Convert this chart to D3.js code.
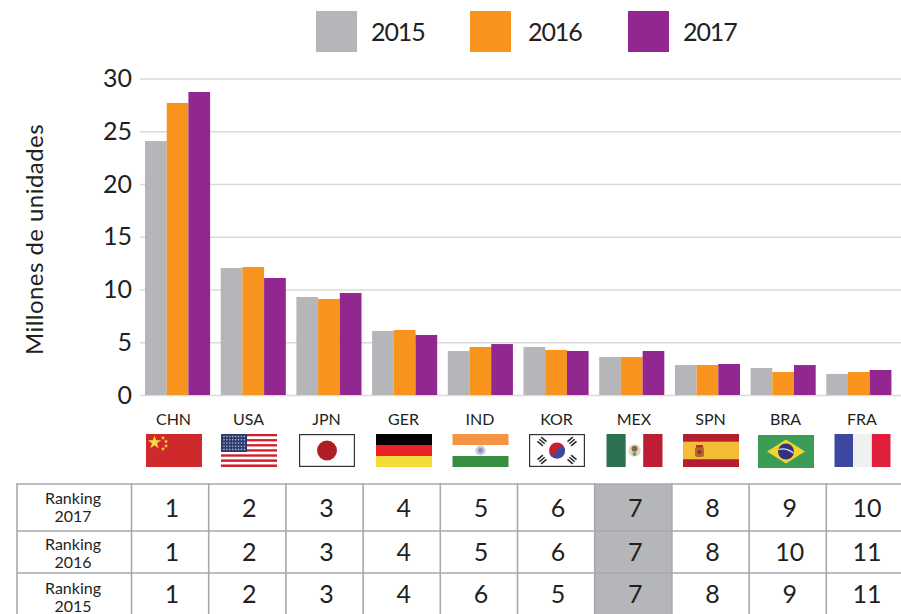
<!DOCTYPE html>
<html>
<head>
<meta charset="utf-8">
<script src="https://cdnjs.cloudflare.com/ajax/libs/d3/7.8.5/d3.min.js"></script>
<style>
  html, body { margin: 0; padding: 0; background: #fff; }
  svg { display: block; }
  text { font-family: Lato, sans-serif; fill: #231f20; }
</style>
</head>
<body>
<div id="chart"></div>
<script>
var countries = ["CHN", "USA", "JPN", "GER", "IND", "KOR", "MEX", "SPN", "BRA", "FRA"];
var years = ["2015", "2016", "2017"];
var values2015 = [24.07, 12.04, 9.29, 6.07, 4.17, 4.55, 3.6, 2.84, 2.56, 2.0];
var values2016 = [27.68, 12.13, 9.1, 6.16, 4.55, 4.27, 3.6, 2.84, 2.18, 2.18];
var values2017 = [28.72, 11.09, 9.67, 5.69, 4.83, 4.17, 4.17, 2.94, 2.84, 2.37];
var yTicks = [0, 5, 10, 15, 20, 25, 30];
var rankRows = ["2017", "2016", "2015"];
var ranking2017 = [1, 2, 3, 4, 5, 6, 7, 8, 9, 10];
var ranking2016 = [1, 2, 3, 4, 5, 6, 7, 8, 10, 11];
var ranking2015 = [1, 2, 3, 4, 6, 5, 7, 8, 9, 11];

var seriesValues = { "2015": values2015, "2016": values2016, "2017": values2017 };
var rankValues = { "2017": ranking2017, "2016": ranking2016, "2015": ranking2015 };

var width = 901, height = 614;

var color = d3.scaleOrdinal().domain(years).range(["#b5b6b9", "#f8931d", "#91278f"]);

var svg = d3.select("#chart").append("svg")
    .attr("width", width)
    .attr("height", height);

// ---- scales
var x0 = d3.scaleBand().domain(countries).range([139.7, 896.7]).paddingInner(0.14).paddingOuter(0.07);
var x1 = d3.scaleBand().domain(years).range([0, x0.bandwidth()]);
var y = d3.scaleLinear().domain([0, 30]).range([395, 78.5]);

// flags and labels sit on a slightly wider spacing than the bars
var labelX = d3.scaleOrdinal().domain(countries)
    .range([174, 249, 327, 404, 480.5, 557, 634.5, 711, 786, 862.5]);

// table columns
var tableX = d3.scaleBand().domain(countries).range([131.5, 903.5]);
var tableY = d3.scaleOrdinal().domain(rankRows).range([484, 531, 573]);
var tableBottom = d3.scaleOrdinal().domain(rankRows).range([531, 573, 620]);
var rowLabelY = d3.scaleOrdinal().domain(rankRows).range([498, 544, 588]);
var rowNumberY = d3.scaleOrdinal().domain(rankRows).range([507.5, 551.5, 594]);

// ---- legend
var legendX = d3.scaleOrdinal().domain(years).range([316, 470, 628]);
var legendTextX = d3.scaleOrdinal().domain(years).range([371, 528, 683]);

svg.append("g").selectAll("rect")
    .data(years)
    .enter().append("rect")
    .attr("x", function(d) { return legendX(d); })
    .attr("y", 11)
    .attr("width", 41)
    .attr("height", 41)
    .attr("fill", color);

svg.append("g").selectAll("text")
    .data(years)
    .enter().append("text")
    .attr("x", function(d) { return legendTextX(d); })
    .attr("y", 32)
    .attr("dy", "0.36em")
    .style("font-size", "25px")
    .style("letter-spacing", "-1.1px")
    .text(function(d) { return d; });

// ---- axis and grid
var yAxis = svg.append("g")
    .attr("transform", "translate(140,0)")
    .call(d3.axisLeft(y).tickValues(yTicks).tickSize(-(width - 140)).tickPadding(8));

yAxis.select(".domain").remove();
yAxis.selectAll("line").attr("stroke", "#d9dadb").attr("stroke-width", 1.6);
yAxis.selectAll("text")
    .style("font-size", "25px")
    .style("font-family", "Lato, sans-serif");

svg.append("text")
    .attr("text-anchor", "middle")
    .attr("transform", "translate(43,239.5)rotate(-90)")
    .style("font-size", "24px")
    .style("letter-spacing", "0.45px")
    .text("Millones de unidades");

// ---- bars
var groups = svg.append("g").selectAll("g")
    .data(countries)
    .enter().append("g")
    .attr("transform", function(d) { return "translate(" + x0(d) + ",0)"; });

groups.selectAll("rect")
    .data(function(d, i) {
        return years.map(function(year) { return { year: year, value: seriesValues[year][i] }; });
    })
    .enter().append("rect")
    .attr("x", function(d) { return x1(d.year); })
    .attr("y", function(d) { return y(d.value); })
    .attr("width", x1.bandwidth())
    .attr("height", function(d) { return y(0) - y(d.value); })
    .attr("fill", function(d) { return color(d.year); });

// ---- country labels
svg.append("g").selectAll("text")
    .data(countries)
    .enter().append("text")
    .attr("x", function(d) { return labelX(d) - 0.5; })
    .attr("y", 419)
    .attr("dy", "0.36em")
    .attr("text-anchor", "middle")
    .style("font-size", "16px")
    .text(function(d) { return d; });

// ---- flags, drawn in a 56x33 box
function stripes(g, list, vertical) {
    var total = d3.sum(list, function(s) { return s[1]; });
    var pos = 0;
    list.forEach(function(s) {
        var size = s[1] / total * (vertical ? 56 : 33);
        g.append("rect")
            .attr("x", vertical ? pos : 0)
            .attr("y", vertical ? 0 : pos)
            .attr("width", vertical ? size : 56)
            .attr("height", vertical ? 33 : size)
            .attr("fill", s[0]);
        pos += size;
    });
}

function dot(g, cx, cy, r, fill) {
    return g.append("circle").attr("cx", cx).attr("cy", cy).attr("r", r).attr("fill", fill);
}

function star(g, cx, cy, r) {
    g.append("path")
        .attr("transform", "translate(" + cx + "," + cy + ")")
        .attr("d", d3.symbol().type(d3.symbolStar).size(r * r * 2.2)())
        .attr("fill", "#f7dc3a");
}

function whiteBox(g) {
    g.append("rect")
        .attr("x", 0.6).attr("y", 0.6)
        .attr("width", 54.8).attr("height", 31.8)
        .attr("fill", "#fff")
        .attr("stroke", "#333").attr("stroke-width", 1.2);
}

var flags = {
    CHN: function(g) {
        g.append("rect").attr("width", 56).attr("height", 33).attr("fill", "#cf2a2b");
        star(g, 8.5, 8.5, 5);
        star(g, 17, 4, 1.6);
        star(g, 20, 7.5, 1.6);
        star(g, 20, 12, 1.6);
        star(g, 17, 15, 1.6);
    },
    USA: function(g) {
        var list = [];
        d3.range(13).forEach(function(i) { list.push([i % 2 ? "#fff" : "#d0202e", 1]); });
        stripes(g, list, false);
        g.append("rect").attr("width", 26).attr("height", 18).attr("fill", "#2f3a6c");
        d3.range(5).forEach(function(r) {
            d3.range(8).forEach(function(c) {
                dot(g, 3 + c * 2.9, 2.6 + r * 3.2, 0.8, "#b9bdd6");
            });
        });
    },
    JPN: function(g) {
        whiteBox(g);
        dot(g, 28, 16.5, 10, "#ae1f24");
    },
    GER: function(g) {
        stripes(g, [["#000", 1], ["#ea2129", 1], ["#f2da37", 1]], false);
    },
    IND: function(g) {
        stripes(g, [["#f59445", 1], ["#fff", 1], ["#388e41", 1]], false);
        dot(g, 28, 16.5, 5, "#c9c7de");
        dot(g, 28, 16.5, 2.4, "#8f8cbb");
    },
    KOR: function(g) {
        whiteBox(g);
        dot(g, 28, 16.5, 8, "#c8202f");
        g.append("path")
            .attr("d", "M20 16.5A4 4 0 0 0 28 16.5A4 4 0 0 1 36 16.5A8 8 0 0 1 20 16.5Z")
            .attr("fill", "#3a4a9c");
        [[-1, -1], [1, -1], [-1, 1], [1, 1]].forEach(function(p) {
            var cx = 28 + p[0] * 15, cy = 16.5 + p[1] * 9;
            var a = p[0] * p[1] > 0 ? 40 : -40;
            [-2.8, 0, 2.8].forEach(function(o) {
                g.append("rect")
                    .attr("x", -3.5).attr("y", o - 0.8)
                    .attr("width", 7).attr("height", 1.6)
                    .attr("fill", "#2b2b2b")
                    .attr("transform", "translate(" + cx + "," + cy + ")rotate(" + a + ")");
            });
        });
    },
    MEX: function(g) {
        stripes(g, [["#2e7152", 1], ["#fff", 0.9], ["#bd1e36", 1]], true);
        dot(g, 28, 16.5, 6.2, "#ded8c6");
        dot(g, 28, 14.8, 3, "#8a6a3c");
        dot(g, 28, 20, 2, "#6f9a72");
    },
    SPN: function(g) {
        stripes(g, [["#b41f30", 1], ["#f3bd36", 2.2], ["#b41f30", 1]], false);
        g.append("rect").attr("x", 12).attr("y", 13).attr("width", 9).attr("height", 10).attr("rx", 2).attr("fill", "#b5662c");
        g.append("rect").attr("x", 13).attr("y", 11).attr("width", 7).attr("height", 2.5).attr("fill", "#a33");
        dot(g, 16.5, 18, 2, "#8c2f2f");
    },
    BRA: function(g) {
        g.append("rect").attr("y", 1).attr("width", 56).attr("height", 33).attr("fill", "#3a9c55");
        g.append("path").attr("d", "M9 17.5L28 5.5L47 17.5L28 29.5Z").attr("fill", "#f3d32c");
        dot(g, 28, 17.5, 8, "#35307f");
        g.append("path")
            .attr("d", "M20.5 15.5Q28 13.5 35.5 19")
            .attr("fill", "none").attr("stroke", "#dfe3ea").attr("stroke-width", 1.2);
    },
    FRA: function(g) {
        stripes(g, [["#3c47a0", 1], ["#eff1f1", 1], ["#e01f3c", 1]], true);
    }
};

svg.append("g").selectAll("g")
    .data(countries)
    .enter().append("g")
    .attr("transform", function(d) { return "translate(" + (labelX(d) - 28) + ",434)"; })
    .each(function(d) { flags[d](d3.select(this)); });

// ---- ranking table
var tableLine = "#a7a9ac";
var table = svg.append("g");

// highlighted column for Mexico
table.selectAll("rect.hl")
    .data(rankRows)
    .enter().append("rect")
    .attr("class", "hl")
    .attr("x", tableX("MEX"))
    .attr("y", function(d) { return tableY(d); })
    .attr("width", tableX.bandwidth())
    .attr("height", function(d) { return tableBottom(d) - tableY(d); })
    .attr("fill", "#b5b6b9");

table.selectAll("line.h")
    .data(rankRows)
    .enter().append("line")
    .attr("class", "h")
    .attr("x1", 17).attr("x2", width)
    .attr("y1", function(d) { return tableY(d); })
    .attr("y2", function(d) { return tableY(d); })
    .attr("stroke", tableLine).attr("stroke-width", 1.6);

table.selectAll("line.v")
    .data([17].concat(countries.map(function(c) { return tableX(c); })))
    .enter().append("line")
    .attr("class", "v")
    .attr("x1", function(d) { return d; })
    .attr("x2", function(d) { return d; })
    .attr("y1", 483).attr("y2", height)
    .attr("stroke", tableLine).attr("stroke-width", 1.6);

var rows = table.selectAll("g.row")
    .data(rankRows)
    .enter().append("g")
    .attr("class", "row");

rows.append("text")
    .attr("x", 73)
    .attr("y", function(d) { return rowLabelY(d); })
    .attr("dy", "0.36em")
    .attr("text-anchor", "middle")
    .style("font-size", "16px")
    .text("Ranking");

rows.append("text")
    .attr("x", 73)
    .attr("y", function(d) { return rowLabelY(d) + 18; })
    .attr("dy", "0.36em")
    .attr("text-anchor", "middle")
    .style("font-size", "16px")
    .text(function(d) { return d; });

rows.selectAll("text.rank")
    .data(function(d) {
        return countries.map(function(c, i) { return { country: c, row: d, rank: rankValues[d][i] }; });
    })
    .enter().append("text")
    .attr("class", "rank")
    .attr("x", function(d) { return tableX(d.country) + tableX.bandwidth() / 2 + 2; })
    .attr("y", function(d) { return rowNumberY(d.row); })
    .attr("dy", "0.36em")
    .attr("text-anchor", "middle")
    .style("font-size", "25px")
    .text(function(d) { return d.rank; });
</script>
</body>
</html>
